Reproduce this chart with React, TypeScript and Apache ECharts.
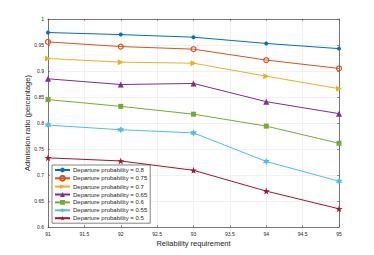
import React, { useEffect, useRef } from "react";
import * as echarts from "echarts";

const xValues = [91, 92, 93, 94, 95];
const seriesNames = [
  "Departure probability = 0.8",
  "Departure probability = 0.75",
  "Departure probability = 0.7",
  "Departure probability = 0.65",
  "Departure probability = 0.6",
  "Departure probability = 0.55",
  "Departure probability = 0.5",
];
const p08 = [0.974, 0.970, 0.965, 0.953, 0.943];
const p075 = [0.956, 0.947, 0.942, 0.921, 0.905];
const p07 = [0.924, 0.917, 0.915, 0.890, 0.866];
const p065 = [0.885, 0.874, 0.876, 0.841, 0.818];
const p06 = [0.845, 0.832, 0.817, 0.794, 0.761];
const p055 = [0.796, 0.787, 0.781, 0.726, 0.688];
const p05 = [0.733, 0.727, 0.709, 0.669, 0.635];
const seriesValues = [p08, p075, p07, p065, p06, p055, p05];

const colors = ["#0072BD", "#D95319", "#EDB120", "#7E2F8E", "#77AC30", "#4DBEEE", "#A2142F"];
const STAR = "path://M50,0L61.8,36.3L100,36.3L69.1,58.8L80.9,95.1L50,72.6L19.1,95.1L30.9,58.8L0,36.3L38.2,36.3Z";
const HEX = "path://M50,0L62.5,28.3L93.3,25L75,50L93.3,75L62.5,71.7L50,100L37.5,71.7L6.7,75L25,50L6.7,25L37.5,28.3Z";
const TRI_R = "path://M0,0L100,50L0,100Z";
const symbols = ["circle", "circle", TRI_R, "triangle", "rect", HEX, STAR];
const symbolSizes = [4, 5, 6, 6, 5, 7, 7];
const symbolFilled = [true, false, true, true, true, true, true];

export default function App() {
  const ref = useRef<HTMLDivElement>(null);
  useEffect(() => {
    if (!ref.current) return;
    const chart = echarts.init(ref.current, undefined, { renderer: "svg" });
    const axisColor = "#555";
    const labelColor = "#262626";
    const series = seriesNames.map((name, i) => ({
      name,
      type: "line",
      data: xValues.map((x, j) => [x, seriesValues[i][j]]),
      symbol: symbols[i],
      symbolSize: symbolSizes[i],
      showAllSymbol: true,
      lineStyle: { color: colors[i], width: 1 },
      itemStyle: {
        color: symbolFilled[i] ? colors[i] : "rgba(0,0,0,0)",
        borderColor: colors[i],
        borderWidth: symbolFilled[i] ? 0 : 1.2,
      },
      xAxisIndex: 0,
      yAxisIndex: 0,
    }));
    chart.setOption({
      animation: false,
      color: colors,
      grid: { left: 48, right: 35, top: 19, bottom: 28, containLabel: false },
      legend: {
        orient: "vertical",
        left: 52,
        top: 165,
        itemWidth: 15,
        itemHeight: 6,
        itemGap: 1.9,
        padding: [2, 3, 2, 2],
        borderColor: "#333",
        borderWidth: 0.6,
        backgroundColor: "#fff",
        textStyle: { fontSize: 6, color: labelColor, fontFamily: "Liberation Sans", padding: [0, 0, 0, -2] },
        data: seriesNames,
      },
      xAxis: [
        {
          type: "value",
          min: 91,
          max: 95,
          interval: 0.5,
          name: "Reliability requirement",
          nameLocation: "middle",
          nameGap: 12,
          nameMoveOverlap: false,
          nameTextStyle: { fontSize: 7.5, color: labelColor, fontFamily: "Liberation Sans" },
          axisLine: { show: true, lineStyle: { color: axisColor, width: 0.8 } },
          axisTick: { show: true, inside: true, length: 2, lineStyle: { color: axisColor, width: 0.6 } },
          axisLabel: { fontSize: 5, color: labelColor, margin: 4, fontFamily: "Liberation Sans" },
          splitLine: { show: true, lineStyle: { color: "#e8e8e8", width: 0.6 } },
        },
        {
          type: "value",
          min: 91,
          max: 95,
          interval: 0.5,
          position: "top",
          axisLine: { show: true, lineStyle: { color: axisColor, width: 0.8 } },
          axisTick: { show: true, inside: true, length: 2, lineStyle: { color: axisColor, width: 0.6 } },
          axisLabel: { show: false },
          splitLine: { show: false },
        },
      ],
      yAxis: [
        {
          type: "value",
          min: 0.6,
          max: 1,
          interval: 0.05,
          name: "Admission ratio (percentage)",
          nameLocation: "middle",
          nameGap: 17,
          nameMoveOverlap: false,
          nameTextStyle: { fontSize: 7.5, color: labelColor, fontFamily: "Liberation Sans" },
          axisLine: { show: true, lineStyle: { color: axisColor, width: 0.8 } },
          axisTick: { show: true, inside: true, length: 2, lineStyle: { color: axisColor, width: 0.6 } },
          axisLabel: {
            fontSize: 5,
            color: labelColor,
            margin: 4,
            fontFamily: "Liberation Sans",
            formatter: (v: number) => String(parseFloat(v.toFixed(2))),
          },
          splitLine: { show: true, lineStyle: { color: "#e8e8e8", width: 0.6 } },
        },
        {
          type: "value",
          min: 0.6,
          max: 1,
          interval: 0.05,
          position: "right",
          axisLine: { show: true, lineStyle: { color: axisColor, width: 0.8 } },
          axisTick: { show: true, inside: true, length: 2, lineStyle: { color: axisColor, width: 0.6 } },
          axisLabel: { show: false },
          splitLine: { show: false },
        },
      ],
      series,
    });
    return () => chart.dispose();
  }, []);
  return <div ref={ref} style={{ width: 374, height: 255, position: "absolute", left: 0, top: 0 }} />;
}
